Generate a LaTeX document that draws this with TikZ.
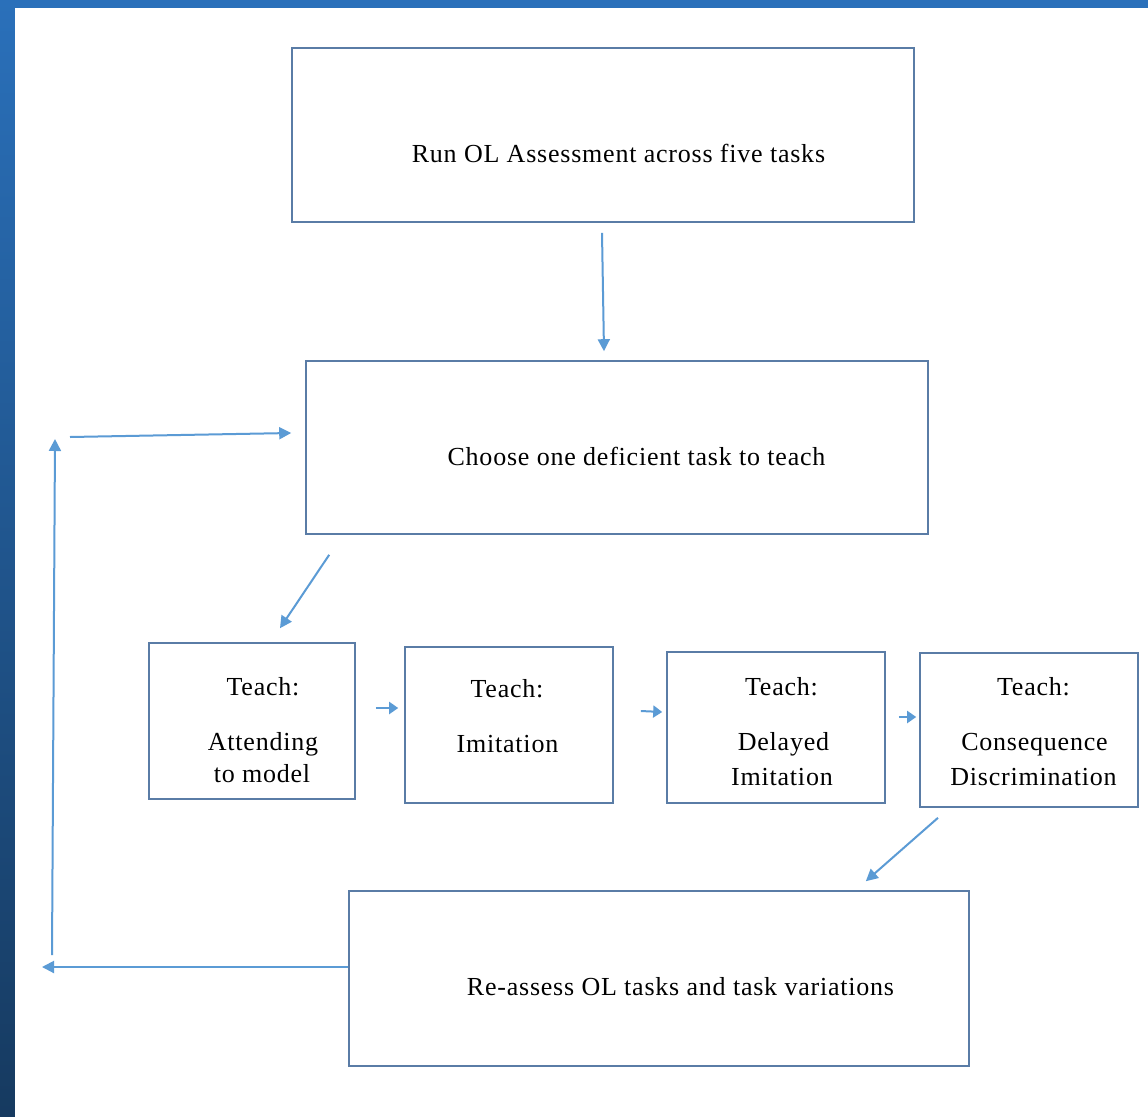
\documentclass[tikz,border=0pt]{standalone}
\usepackage{fontspec}
\setmainfont[LetterSpace=3]{Liberation Serif}
\usetikzlibrary{arrows.meta,calc}
\definecolor{arrowblue}{HTML}{5B9BD5}
\definecolor{boxline}{HTML}{5A7CA6}
\definecolor{bgtop}{HTML}{2A70BA}
\definecolor{bgbot}{HTML}{163A60}
\begin{document}
\begin{tikzpicture}[x=1pt,y=-1pt,
  box/.style={draw=boxline,line width=1.6pt,fill=white,inner sep=0pt},
  lbl/.style={anchor=base,inner sep=0pt,font=\fontsize{26}{31}\selectfont},
  conn/.style={draw=arrowblue,line width=2pt,-{Triangle[length=12pt,width=12pt]}},
  smallconn/.style={draw=arrowblue,line width=2pt,-{Triangle[length=9pt,width=12pt]}}]
\useasboundingbox (0,0) rectangle (1148,1116);
\shade[top color=bgtop,bottom color=bgbot] (0,0) rectangle (1148,1116);
\fill[white] (15,8) rectangle (1156,1124);

% boxes
\node[box,minimum width=622pt,minimum height=174pt] (b1) at (603,135) {};
\node[box,minimum width=622pt,minimum height=173pt] (b2) at (617,447.5) {};
\node[box,minimum width=206pt,minimum height=156pt] (b3) at (252,721) {};
\node[box,minimum width=208pt,minimum height=156pt] (b4) at (509,725) {};
\node[box,minimum width=218pt,minimum height=151pt] (b5) at (776,727.5) {};
\node[box,minimum width=218pt,minimum height=154pt] (b6) at (1029,730) {};
\node[box,minimum width=620pt,minimum height=175pt] (b7) at (659,978.5) {};

% texts
\node[lbl] (t1) at (618.5,162) {Run OL Assessment across five tasks};
\node[lbl] (t2) at (636.5,465) {Choose one deficient task to teach};
\node[lbl] (t3a) at (263,695) {Teach:};
\node[lbl] (t3b) at (263,750) {Attending};
\node[lbl] (t3c) at (262,782) {to model};
\node[lbl] (t4a) at (507,697) {Teach:};
\node[lbl] (t4b) at (507.5,752) {Imitation};
\node[lbl] (t5a) at (781.5,695) {Teach:};
\node[lbl] (t5b) at (783.5,750) {Delayed};
\node[lbl] (t5c) at (782,785) {Imitation};
\node[lbl] (t6a) at (1033.5,695) {Teach:};
\node[lbl] (t6b) at (1034.5,750) {Consequence};
\node[lbl] (t6c) at (1033.5,785) {Discrimination};
\node[lbl] (t7) at (680.5,995) {Re-assess OL tasks and task variations};

% free-end coordinates of the loop
\coordinate (cL) at (42,967);
\coordinate (cV1) at (52,955);
\coordinate (cV2) at (55,439);
\coordinate (cH) at (70,437);

% connectors
\draw[conn] ($(b1.south)+(-1,10)$) -- ($(b2.north)+(-13,-9)$);
\draw[conn] ($(b2.south west)+(24,20)$) -- ($(b3.north)+(28,-14)$);
\draw[smallconn] ($(b3.east)+(20,-13)$) -- ($(b4.west)+(-6,-17)$);
\draw[smallconn] ($(b4.east)+(27,-14)$) -- ($(b5.west)+(-4,-15.5)$);
\draw[smallconn] ($(b5.east)+(13,-10.5)$) -- ($(b6.west)+(-3,-13)$);
\draw[conn] ($(b6.south)+(-91,10)$) -- ($(b7.north east)+(-104,-9)$);
\draw[conn] ($(b7.west)+(0,-11.5)$) -- (cL);
\draw[conn] (cV1) -- (cV2);
\draw[conn] (cH) -- ($(b2.west)+(-14,-14.5)$);
\end{tikzpicture}
\end{document}
